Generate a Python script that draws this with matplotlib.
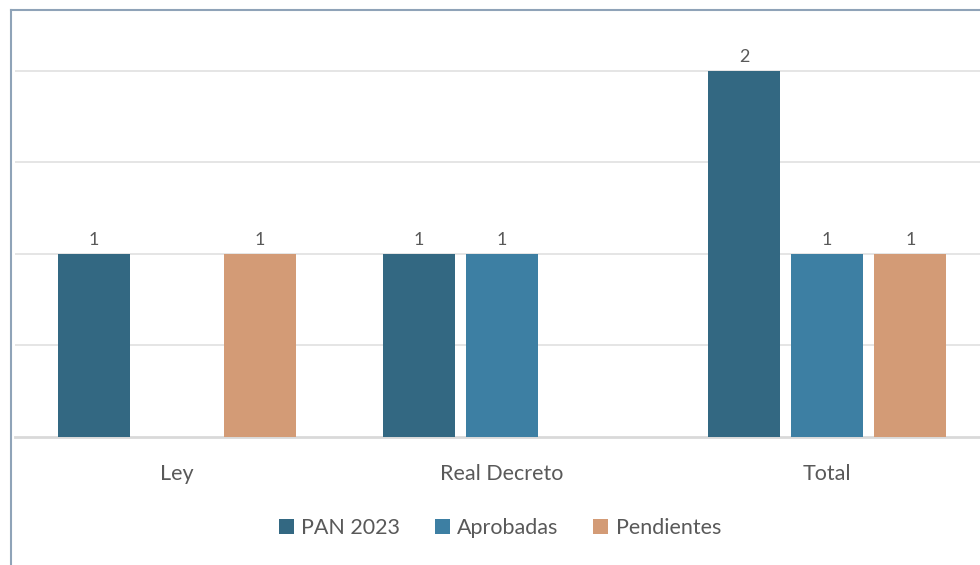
import numpy as np
import matplotlib.pyplot as plt
from matplotlib.lines import Line2D
from matplotlib.patches import Patch

categories = ['Ley', 'Real Decreto', 'Total']
series = ['PAN 2023', 'Aprobadas', 'Pendientes']
pan = [1, 1, 2]
aprobadas = [None, 1, 1]
pendientes = [1, None, 1]
values = [pan, aprobadas, pendientes]
colors = ['#336882', '#3d7fa3', '#d39b76']

plt.rcParams['font.family'] = ['Lato', 'DejaVu Sans']
txt = '#595959'

fig = plt.figure(figsize=(9.8, 5.65), dpi=100)
ax = fig.add_axes([15 / 980, 1 - 437 / 565, 1 - 15 / 980, (437 - 10) / 565])

x = np.arange(len(categories))
w = 72 / 325
step = 83 / 325
for i, (vals, c) in enumerate(zip(values, colors)):
    for xi, v in zip(x, vals):
        if v is None:
            continue
        xp = xi + (i - 1) * step
        ax.bar(xp, v, w, color=c, zorder=3)
        ax.text(xp, v + 0.035, str(v), ha='center', va='bottom', fontsize=13, color=txt)

ax.set_xlim(-0.498, 2.47)
ax.set_ylim(0, 2.333)
ax.set_yticks([0.5, 1, 1.5, 2])
ax.yaxis.grid(True, color='#e0e0e0', linewidth=1.2, zorder=0)
ax.tick_params(axis='y', left=False, labelleft=False)
ax.tick_params(axis='x', bottom=False, pad=16, labelsize=15.5, labelcolor=txt)
ax.set_xticks(x)
ax.set_xticklabels(categories)
for s in ['top', 'right', 'left']:
    ax.spines[s].set_visible(False)
ax.spines['bottom'].set_color('#d9d9d9')
ax.spines['bottom'].set_linewidth(2)

handles = [Patch(facecolor=c) for c in colors]
fig.legend(handles, series, loc='center', bbox_to_anchor=(500 / 980, 1 - 528 / 565),
           ncol=3, frameon=False, fontsize=15.5, labelcolor=txt,
           handlelength=0.7, handleheight=0.7, handletextpad=0.35, columnspacing=1.6)

frame = '#8fa3b8'
fig.add_artist(Line2D([11 / 980, 11 / 980], [0, 1 - 10 / 565], color=frame, linewidth=1.5))
fig.add_artist(Line2D([11 / 980, 1], [1 - 10 / 565, 1 - 10 / 565], color=frame, linewidth=1.5))

fig.savefig('out.png', dpi=100)
